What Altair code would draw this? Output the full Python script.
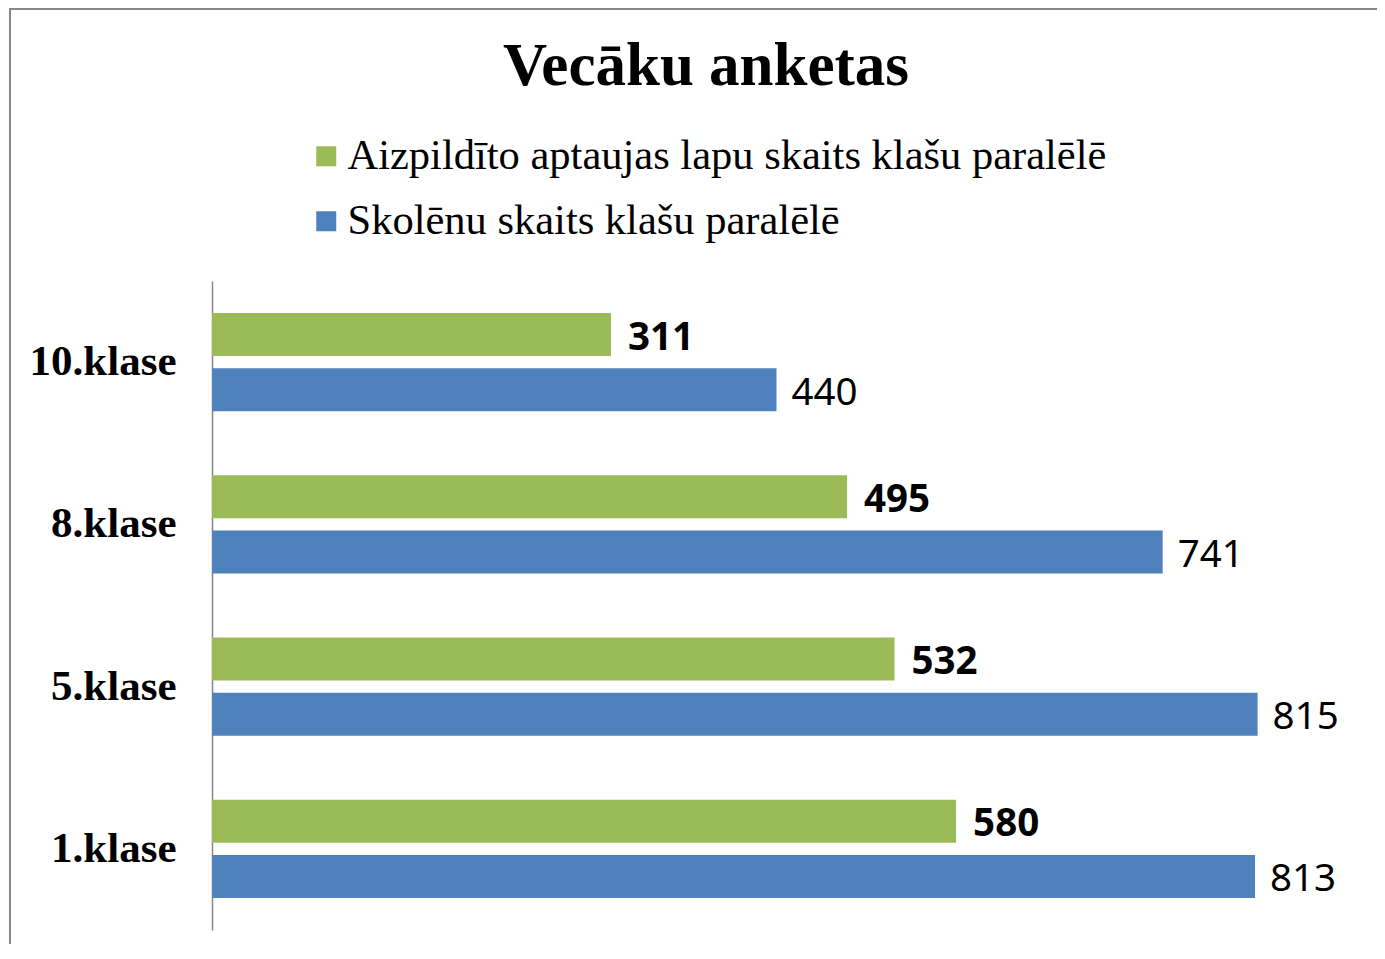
import altair as alt
import pandas as pd

categories = ["10.klase", "8.klase", "5.klase", "1.klase"]
series_names = ["Aizpildīto aptaujas lapu skaits klašu paralēlē", "Skolēnu skaits klašu paralēlē"]
filled = [311, 495, 532, 580]
students = [440, 741, 815, 813]
colors = ["#9BBB59", "#4F81BD"]

rows = []
for c, f, s in zip(categories, filled, students):
    rows.append({"cat": c, "series": series_names[0], "value": f})
    rows.append({"cat": c, "series": series_names[1], "value": s})
df = pd.DataFrame(rows)

W = 1100
H = 649
XMAX = 857.4

x_enc = alt.X("value:Q", scale=alt.Scale(domain=[0, XMAX], nice=False, zero=True), axis=None)
y_enc = alt.Y("cat:N", sort=categories,
              scale=alt.Scale(paddingInner=0.395, paddingOuter=0.1975),
              axis=alt.Axis(title=None, ticks=False, domainColor="#868686", domainWidth=1.5,
                            labelFont="Liberation Serif", labelFontWeight="bold",
                            labelFontSize=43, labelColor="#000000", labelPadding=36))
yoff = alt.YOffset("series:N", sort=series_names,
                   scale=alt.Scale(paddingInner=0.22, paddingOuter=0))

base = alt.Chart(df)

bars = base.mark_bar().encode(
    x=x_enc, y=y_enc, yOffset=yoff,
    color=alt.Color("series:N", sort=series_names,
                    scale=alt.Scale(domain=series_names, range=colors),
                    legend=alt.Legend(title=None, orient="none", legendX=93, legendY=-146,
                                      symbolType="square", symbolSize=400, symbolStrokeWidth=0,
                                      labelFont="Liberation Serif", labelFontSize=42.5,
                                      labelColor="#000000", labelOffset=0, rowPadding=22,
                                      labelLimit=1000, direction="vertical")),
)

lab_green = base.transform_filter(alt.datum.series == series_names[0]).mark_text(
    align="left", baseline="middle", dx=17, dy=3, font="Noto Sans", fontSize=38.5,
    fontWeight="bold", color="#000000"
).encode(x=x_enc, y=y_enc, yOffset=yoff, text="value:Q")

lab_blue = base.transform_filter(alt.datum.series == series_names[1]).mark_text(
    align="left", baseline="middle", dx=15, dy=3, font="Noto Sans", fontSize=38.5,
    fontWeight="normal", color="#000000"
).encode(x=x_enc, y=y_enc, yOffset=yoff, text="value:Q")

frame_left = base.mark_rule(color="#888888", strokeWidth=2).encode(
    x=alt.value(-202), y=alt.value(-272), y2=alt.value(H + 60))
frame_top = base.mark_rule(color="#888888", strokeWidth=2).encode(
    x=alt.value(-203), x2=alt.value(W + 80), y=alt.value(-272))

chart = alt.layer(frame_left, frame_top, bars, lab_green, lab_blue).properties(
    width=W, height=H,
    autosize=alt.AutoSizeParams(type="none"),
    padding={"left": 204, "top": 273, "right": 65, "bottom": 14},
    title=alt.TitleParams("Vecāku anketas", anchor="middle", dx=-56, offset=-90,
                          font="Liberation Serif", fontSize=61, fontWeight="bold",
                          color="#000000"),
).configure_view(stroke=None)

chart.save("out.html", embed_options={"renderer": "svg", "actions": False})
